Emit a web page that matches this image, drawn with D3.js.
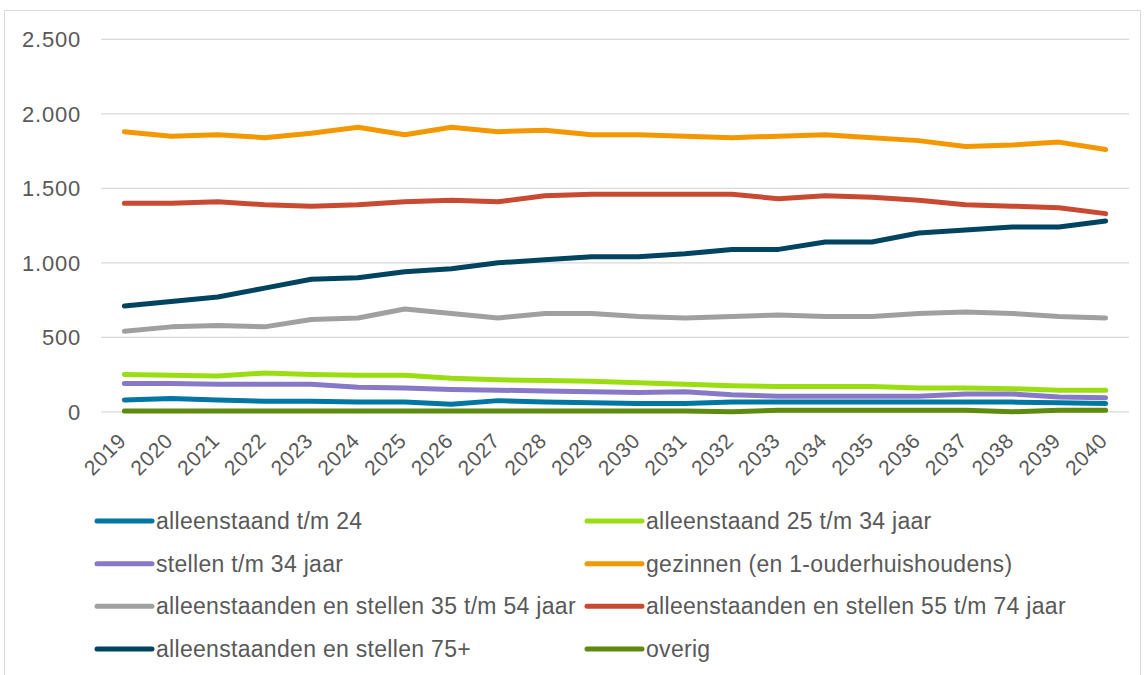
<!DOCTYPE html>
<html>
<head>
<meta charset="utf-8">
<script src="https://cdn.jsdelivr.net/npm/d3@7"></script>
<style>
  html, body { margin: 0; padding: 0; background: #fff; }
  text { font-family: "Liberation Sans", Arial, sans-serif; fill: #595959; }
</style>
</head>
<body>
<div id="chart"></div>
<script>
// categories (years)
const years = ["2019","2020","2021","2022","2023","2024","2025","2026","2027","2028","2029",
               "2030","2031","2032","2033","2034","2035","2036","2037","2038","2039","2040"];

// series values
const alleenstaandTm24 = [80, 90, 80, 70, 70, 65, 65, 50, 75, 65, 60, 55, 55, 65, 65, 65, 65, 65, 65, 65, 60, 55];
const alleenstaand25tm34 = [250, 245, 240, 260, 250, 245, 245, 225, 215, 210, 205, 195, 185, 175, 170, 170, 170, 160, 160, 155, 145, 145];
const stellenTm34 = [190, 190, 185, 185, 185, 165, 160, 150, 145, 140, 135, 130, 135, 115, 105, 105, 105, 105, 120, 120, 100, 95];
const gezinnen = [1880, 1850, 1860, 1840, 1870, 1910, 1860, 1910, 1880, 1890, 1860, 1860, 1850, 1840, 1850, 1860, 1840, 1820, 1780, 1790, 1810, 1760];
const stellen35tm54 = [540, 570, 580, 570, 620, 630, 690, 660, 630, 660, 660, 640, 630, 640, 650, 640, 640, 660, 670, 660, 640, 630];
const stellen55tm74 = [1400, 1400, 1410, 1390, 1380, 1390, 1410, 1420, 1410, 1450, 1460, 1460, 1460, 1460, 1430, 1450, 1440, 1420, 1390, 1380, 1370, 1330];
const stellen75plus = [710, 740, 770, 830, 890, 900, 940, 960, 1000, 1020, 1040, 1040, 1060, 1090, 1090, 1140, 1140, 1200, 1220, 1240, 1240, 1280];
const overig = [5, 5, 5, 5, 5, 5, 5, 5, 5, 5, 5, 5, 5, 0, 10, 10, 10, 10, 10, 0, 10, 10];

// y tick values
const yTicks = [0, 500, 1000, 1500, 2000, 2500];

// legend order (two columns, row by row)
const series = [
  { name: "alleenstaand t/m 24", values: alleenstaandTm24, color: "#0077A3" },
  { name: "alleenstaand 25 t/m 34 jaar", values: alleenstaand25tm34, color: "#9ADE12" },
  { name: "stellen t/m 34 jaar", values: stellenTm34, color: "#8879C8" },
  { name: "gezinnen (en 1-ouderhuishoudens)", values: gezinnen, color: "#F39800" },
  { name: "alleenstaanden en stellen 35 t/m 54 jaar", values: stellen35tm54, color: "#A0A0A0" },
  { name: "alleenstaanden en stellen 55 t/m 74 jaar", values: stellen55tm74, color: "#C94A33" },
  { name: "alleenstaanden en stellen 75+", values: stellen75plus, color: "#004461" },
  { name: "overig", values: overig, color: "#5E8A0E" }
];

const width = 1147;
const height = 675;

const svg = d3.select("#chart")
  .append("svg")
  .attr("width", width)
  .attr("height", height);

// outer frame
svg.append("rect")
  .attr("x", 4.5).attr("y", 10.5)
  .attr("width", 1136).attr("height", 672)
  .attr("fill", "none")
  .attr("stroke", "#D9D9D9")
  .attr("stroke-width", 1);

const x = d3.scaleBand().domain(years).range([101, 1129]);
const y = d3.scaleLinear().domain([0, 2500]).range([411.8, 39.3]);
const cx = d => x(d) + x.bandwidth() / 2;

// gridlines
svg.append("g")
  .selectAll("line")
  .data(yTicks)
  .enter()
  .append("line")
  .attr("x1", 101).attr("x2", 1129)
  .attr("y1", d => y(d)).attr("y2", d => y(d))
  .attr("stroke", "#D9D9D9")
  .attr("stroke-width", 1.3);

// y labels
const fmt = d3.formatLocale({ decimal: ",", thousands: ".", grouping: [3], currency: ["€", ""] }).format(",");
svg.append("g")
  .selectAll("text")
  .data(yTicks)
  .enter()
  .append("text")
  .attr("x", 81)
  .attr("y", d => y(d))
  .attr("dy", "0.35em")
  .attr("text-anchor", "end")
  .style("font-size", "22px")
  .style("letter-spacing", "0.8px")
  .text(d => fmt(d));

// x labels, rotated
svg.append("g")
  .selectAll("text")
  .data(years)
  .enter()
  .append("text")
  .attr("transform", d => `translate(${cx(d) + 3},442) rotate(-45)`)
  .attr("text-anchor", "end")
  .style("font-size", "21px")
  .style("letter-spacing", "0.6px")
  .text(d => d);

// lines
const line = d3.line()
  .x((v, i) => cx(years[i]))
  .y(v => y(v));

svg.append("g")
  .selectAll("path")
  .data(series)
  .enter()
  .append("path")
  .attr("d", d => line(d.values))
  .attr("fill", "none")
  .attr("stroke", d => d.color)
  .attr("stroke-width", 5)
  .attr("stroke-linecap", "round")
  .attr("stroke-linejoin", "round");

// legend
const colX = [97, 587];
const rowY = [521, 563.7, 606.3, 649];
const legend = svg.append("g")
  .selectAll("g")
  .data(series)
  .enter()
  .append("g")
  .attr("transform", (d, i) => `translate(${colX[i % 2]},${rowY[Math.floor(i / 2)]})`);

legend.append("line")
  .attr("x1", 0).attr("x2", 55)
  .attr("y1", 0).attr("y2", 0)
  .attr("stroke", d => d.color)
  .attr("stroke-width", 5)
  .attr("stroke-linecap", "round");

legend.append("text")
  .attr("x", 59)
  .attr("y", 0)
  .attr("dy", "0.35em")
  .style("font-size", "23px")
  .style("letter-spacing", "0.3px")
  .text(d => d.name);
</script>
</body>
</html>
